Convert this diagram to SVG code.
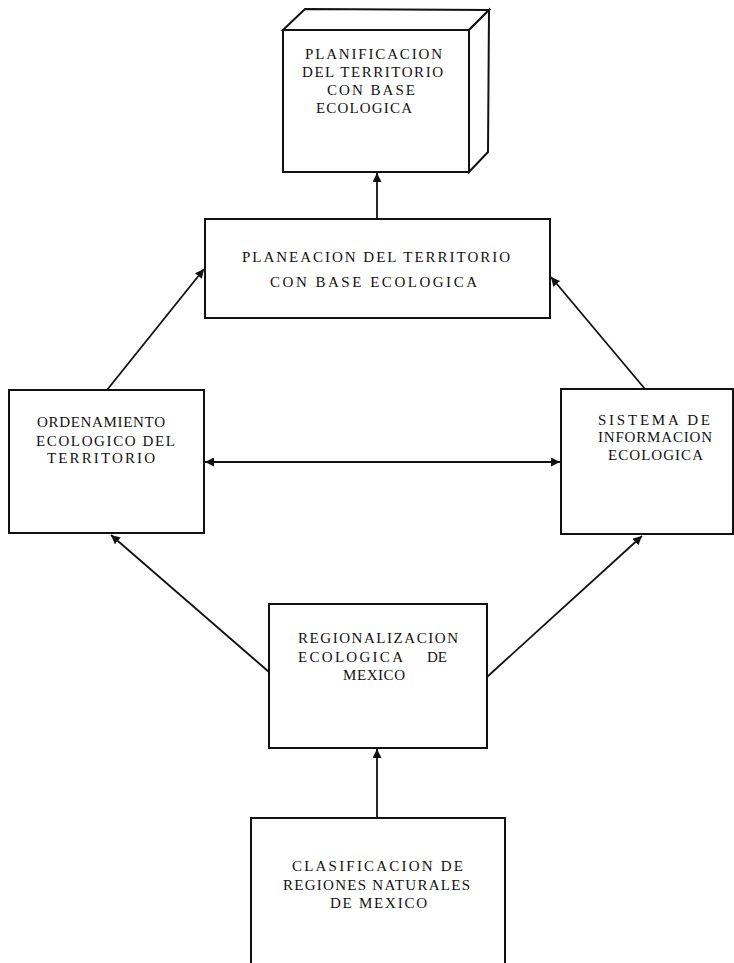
<svg xmlns="http://www.w3.org/2000/svg" width="734" height="963" viewBox="0 0 734 963">
<style>
.box{fill:#fff;stroke:#111;stroke-width:2}
.t{font-family:"Liberation Serif","DejaVu Serif",serif;font-size:15px;fill:#111}
.c{stroke:#111;stroke-width:1.8;fill:none}
</style>
<defs>
<marker id="ah" viewBox="0 0 10 10" refX="10" refY="5" markerWidth="9" markerHeight="9" markerUnits="userSpaceOnUse" orient="auto-start-reverse">
<path d="M0,0 L10,5 L0,10 Z" fill="#111"/>
</marker>
</defs>
<rect width="734" height="963" fill="#fff"/>
<g id="connectors">
<line class="c" x1="377" y1="218" x2="377" y2="173" marker-end="url(#ah)"/>
<line class="c" x1="107" y1="390" x2="204" y2="269" marker-end="url(#ah)"/>
<line class="c" x1="645" y1="389" x2="551" y2="277" marker-end="url(#ah)"/>
<line class="c" x1="205" y1="462" x2="560" y2="462" marker-start="url(#ah)" marker-end="url(#ah)"/>
<line class="c" x1="269" y1="672" x2="111" y2="535" marker-end="url(#ah)"/>
<line class="c" x1="487" y1="677" x2="642" y2="536" marker-end="url(#ah)"/>
<line class="c" x1="377" y1="818" x2="377" y2="749" marker-end="url(#ah)"/>
</g>
<g id="planificacion">
<polygon class="box" points="283,30 305,9 489,10 469,30"/>
<polygon class="box" points="469,30 489,10 488,152 469,172"/>
<rect class="box" x="283" y="30" width="186" height="142"/>
<text class="t" x="305" y="59" textLength="137" lengthAdjust="spacing">PLANIFICACION</text>
<text class="t" x="302" y="77" textLength="141" lengthAdjust="spacing">DEL TERRITORIO</text>
<text class="t" x="327" y="95" textLength="88" lengthAdjust="spacing">CON BASE</text>
<text class="t" x="316" y="113" textLength="96" lengthAdjust="spacing">ECOLOGICA</text>
</g>
<g id="planeacion">
<rect class="box" x="205" y="219" width="345" height="99"/>
<text class="t" x="242" y="262" textLength="268" lengthAdjust="spacing">PLANEACION DEL TERRITORIO</text>
<text class="t" x="270" y="287" textLength="207" lengthAdjust="spacing">CON BASE ECOLOGICA</text>
</g>
<g id="ordenamiento">
<rect class="box" x="9" y="390" width="195" height="143"/>
<text class="t" x="37" y="427" textLength="128" lengthAdjust="spacing">ORDENAMIENTO</text>
<text class="t" x="36" y="446" textLength="139" lengthAdjust="spacing">ECOLOGICO DEL</text>
<text class="t" x="47" y="463" textLength="108" lengthAdjust="spacing">TERRITORIO</text>
</g>
<g id="sistema">
<rect class="box" x="561" y="389" width="172" height="145"/>
<text class="t" x="598" y="425" textLength="112" lengthAdjust="spacing">SISTEMA DE</text>
<text class="t" x="598" y="442" textLength="114" lengthAdjust="spacing">INFORMACION</text>
<text class="t" x="608" y="460" textLength="95" lengthAdjust="spacing">ECOLOGICA</text>
</g>
<g id="regionalizacion">
<rect class="box" x="269" y="604" width="218" height="144"/>
<text class="t" x="298" y="643" textLength="160" lengthAdjust="spacing">REGIONALIZACION</text>
<text class="t" y="662"><tspan x="298" textLength="105" lengthAdjust="spacing">ECOLOGICA</tspan><tspan x="427" textLength="20" lengthAdjust="spacing">DE</tspan></text>
<text class="t" x="343" y="680" textLength="62" lengthAdjust="spacing">MEXICO</text>
</g>
<g id="clasificacion">
<rect class="box" x="251" y="818" width="254" height="160"/>
<text class="t" x="292" y="871" textLength="171" lengthAdjust="spacing">CLASIFICACION DE</text>
<text class="t" x="283" y="890" textLength="187" lengthAdjust="spacing">REGIONES NATURALES</text>
<text class="t" x="330" y="908" textLength="97" lengthAdjust="spacing">DE MEXICO</text>
</g>
</svg>
